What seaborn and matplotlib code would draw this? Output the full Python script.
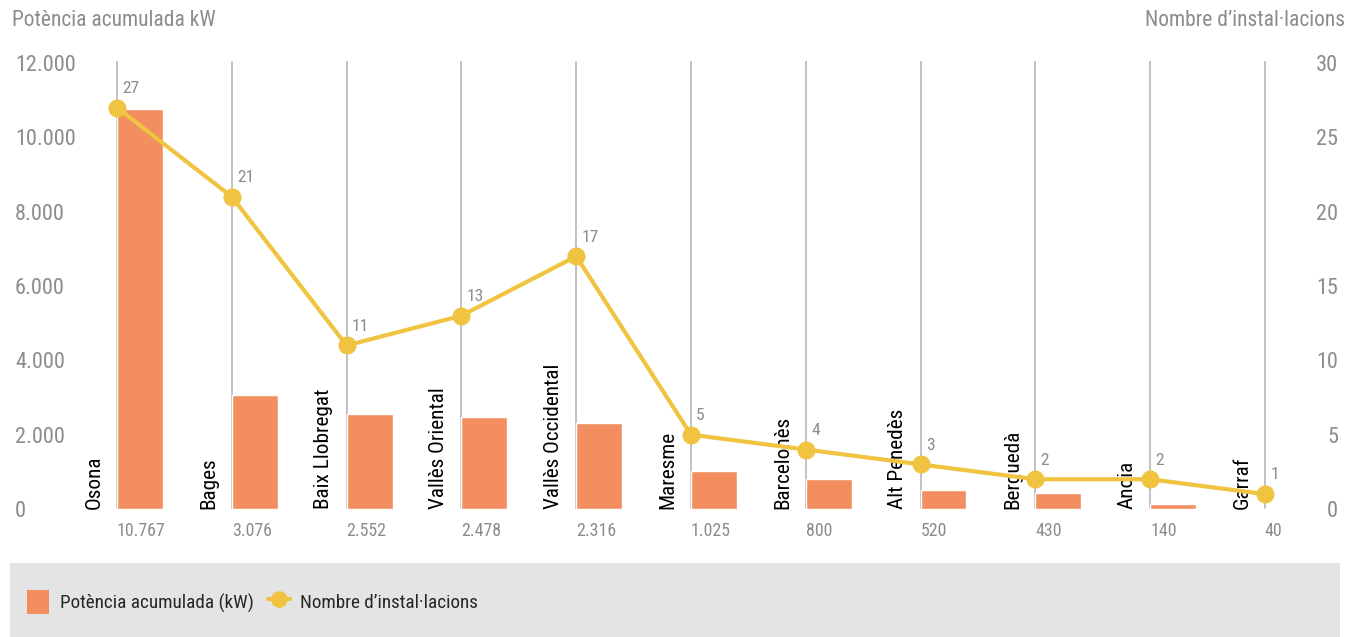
import matplotlib
matplotlib.use("Agg")
import matplotlib.pyplot as plt
from matplotlib.patches import Patch, Rectangle
from matplotlib.lines import Line2D
from matplotlib import font_manager
import seaborn as sns
import pandas as pd

comarques = ["Osona", "Bages", "Baix Llobregat", "Vallès Oriental", "Vallès Occidental",
             "Maresme", "Barcelonès", "Alt Penedès", "Berguedà", "Anoia", "Garraf"]
potencia_kw = [10767, 3076, 2552, 2478, 2316, 1025, 800, 520, 430, 140, 40]
installacions = [27, 21, 11, 13, 17, 5, 4, 3, 2, 2, 1]
left_ticks = [0, 2000, 4000, 6000, 8000, 10000, 12000]
right_ticks = [0, 5, 10, 15, 20, 25, 30]

BAR_COLOR = "#F28E5F"
LINE_COLOR = "#F0C340"
GRID_COLOR = "#B8B8B8"
LABEL_GRAY = "#8C8C8C"

sns.set_style("white")
names = {f.name for f in font_manager.fontManager.ttflist}
families = [f for f in ["Roboto Condensed", "Liberation Sans Narrow", "Roboto", "DejaVu Sans"] if f in names]
plt.rcParams["font.family"] = families

def fmt(v):
    return f"{v:,}".replace(",", ".")

df = pd.DataFrame({"comarca": comarques, "potencia": potencia_kw, "n": installacions})

fig = plt.figure(figsize=(13.5, 6.37), dpi=100)
W, H = 1350, 637
ax = fig.add_axes([85 / W, 1 - 509 / H, (1312 - 85) / W, (509 - 63) / H])

sns.barplot(data=df, x="comarca", y="potencia", color=BAR_COLOR, width=0.4,
            saturation=1, ax=ax, zorder=2)
# bars start at each category line instead of being centred on it
for p in ax.patches:
    p.set_x(p.get_x() + 0.2)

idx = list(range(len(comarques)))
ax.vlines(idx, 0, 12000 * 1.005, color=GRID_COLOR, lw=1.2, zorder=1, clip_on=False)

ax.set_xlim(-0.279, 10.41)
ax.set_ylim(0, 12000)
ax.set_xticks([])
ax.set_xlabel("")
ax.set_ylabel("")
ax.set_yticks(left_ticks)
ax.set_yticklabels([fmt(v) for v in left_ticks], ha="left", color=LABEL_GRAY, fontsize=16)
ax.tick_params(axis="y", length=0, pad=50.4)
for s in ax.spines.values():
    s.set_visible(False)

for i, (name, val) in enumerate(zip(comarques, potencia_kw)):
    ax.text(i - 0.115, 0, name, rotation=90, ha="right", va="bottom",
            color="black", fontsize=15.3, zorder=3)
    ax.annotate(fmt(val), xy=(i, 0), xytext=(0, -15.5), textcoords="offset points",
                ha="left", va="center", color=LABEL_GRAY, fontsize=12.9,
                annotation_clip=False)

ax2 = ax.twinx()
sns.lineplot(x=idx, y=installacions, ax=ax2, color=LINE_COLOR, lw=3,
             marker="o", markersize=13, markeredgewidth=0, zorder=4)
ax2.set_ylim(0, 30)
ax2.set_xlim(ax.get_xlim())
ax2.set_yticks(right_ticks)
ax2.set_yticklabels([str(v) for v in right_ticks], ha="right", color=LABEL_GRAY, fontsize=16)
ax2.tick_params(axis="y", length=0, pad=18.7)
ax2.set_ylabel("")
for s in ax2.spines.values():
    s.set_visible(False)
for i, n in enumerate(installacions):
    ax2.annotate(str(n), xy=(i, n), xytext=(3.8, 13.8), textcoords="offset points",
                 ha="left", va="center", color=LABEL_GRAY, fontsize=12.6)

fig.text(12 / W, 1 - 20 / H, "Potència acumulada kW", ha="left", va="center",
         color=LABEL_GRAY, fontsize=15.5)
fig.text(1345 / W, 1 - 20 / H, "Nombre d’instal·lacions", ha="right", va="center",
         color=LABEL_GRAY, fontsize=15.5)

# legend band
fig.patches.append(Rectangle((10 / W, 0), 1330 / W, 74 / H, transform=fig.transFigure,
                             facecolor="#E4E4E4", edgecolor="none", zorder=0))
handles = [
    Patch(facecolor=BAR_COLOR, edgecolor="none"),
    Line2D([0], [0], color=LINE_COLOR, lw=3, marker="o", markersize=12, markeredgewidth=0),
]
fig.legend(handles, ["Potència acumulada (kW)", "Nombre d’instal·lacions"],
           loc="center left", bbox_to_anchor=(27 / W, 1 - 602 / H), ncol=2,
           frameon=False, fontsize=13.8, handlelength=1.15, handleheight=1.5,
           handletextpad=0.55, columnspacing=0.75, borderpad=0, borderaxespad=0)

fig.savefig("out.png", dpi=100)
